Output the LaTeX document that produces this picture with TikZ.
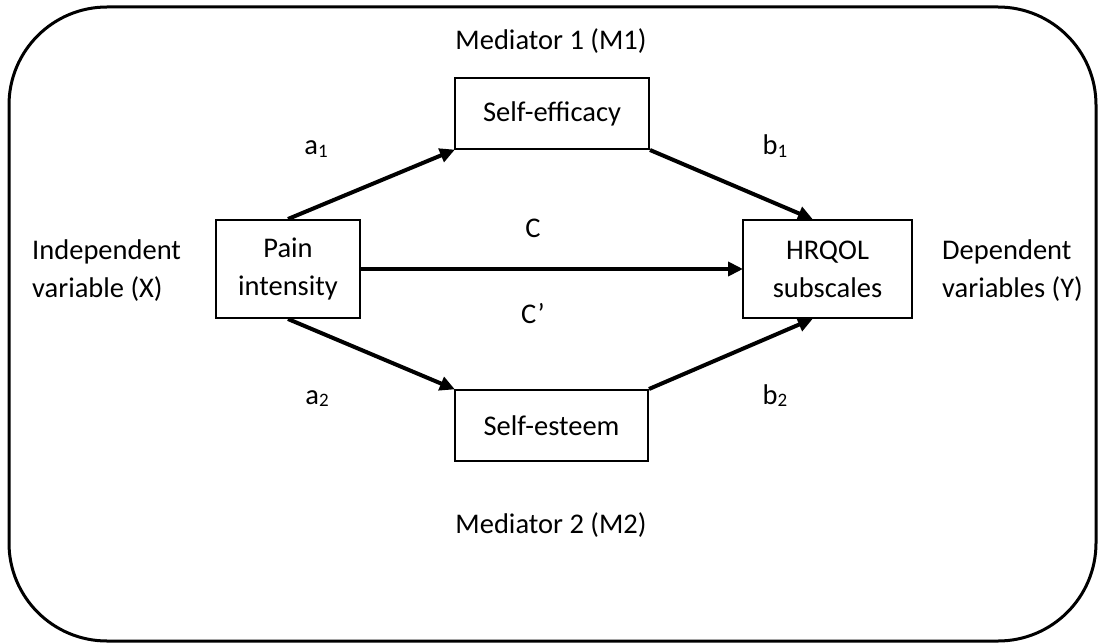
\documentclass[tikz,border=0pt]{standalone}
\usepackage{fontspec}
\setmainfont{Carlito}
\usetikzlibrary{arrows.meta,calc}

% body text size and subscript helper
\newcommand\diagfont{\fontsize{28.5}{38}\selectfont}
\newcommand\sbs[1]{\raisebox{-2.5pt}{\fontsize{19}{19}\selectfont #1}}

\begin{document}
\begin{tikzpicture}[x=1pt,y=-1pt,
  box/.style={draw, line width=2pt, inner sep=0pt, align=center, font=\diagfont},
  lbl/.style={inner sep=0pt, anchor=base, font=\diagfont},
  side/.style={inner sep=0pt, align=left, font=\diagfont},
  path/.style={line width=4pt, -{Triangle[length=15pt,width=14pt]}, shorten >=-1pt},
  frame/.style={line width=3pt, rounded corners=98pt}]

\useasboundingbox (0,0) rectangle (1099,644);

% outer frame
\draw[frame] (9,7) rectangle (1096,641);

% variable boxes
\node[box, minimum width=144pt, minimum height=98pt] (pain) at (288,269) {Pain\\intensity};
\node[box, minimum width=169pt, minimum height=98pt] (hrqol) at (827.5,269) {HRQOL\\subscales};
\node[box, minimum width=194pt, minimum height=71pt] (eff) at (552,113.5) {Self-efficacy};
\node[box, minimum width=193pt, minimum height=71pt] (est) at (551.5,425.5) {Self-esteem};

% side captions (base anchor sits on the last line)
\node[side, anchor=base west] (indep) at (32,297) {Independent\\variable (X)};
\node[side, anchor=base west] (dep) at (942,297) {Dependent\\variables (Y)};
\node[lbl] (m1) at (551,50) {Mediator 1 (M1)};
\node[lbl] (m2) at (551,533) {Mediator 2 (M2)};

% path labels
\node[lbl] (la1) at (316,155) {a\sbs{1}};
\node[lbl] (lb1) at (775,155) {b\sbs{1}};
\node[lbl] (la2) at (317,404) {a\sbs{2}};
\node[lbl] (lb2) at (775,404) {b\sbs{2}};
\node[lbl] (lc) at (533,237) {C};
\node[lbl] (lcp) at (533,323) {C’};

% connectors
\draw[path] (pain.north) -- (eff.south west);
\draw[path] (eff.south east) -- ([xshift=70pt]hrqol.north west);
\draw[path] (pain.east) -- (hrqol.west);
\draw[path] (pain.south) -- (est.north west);
\draw[path] (est.north east) -- ([xshift=70pt]hrqol.south west);
\end{tikzpicture}
\end{document}
